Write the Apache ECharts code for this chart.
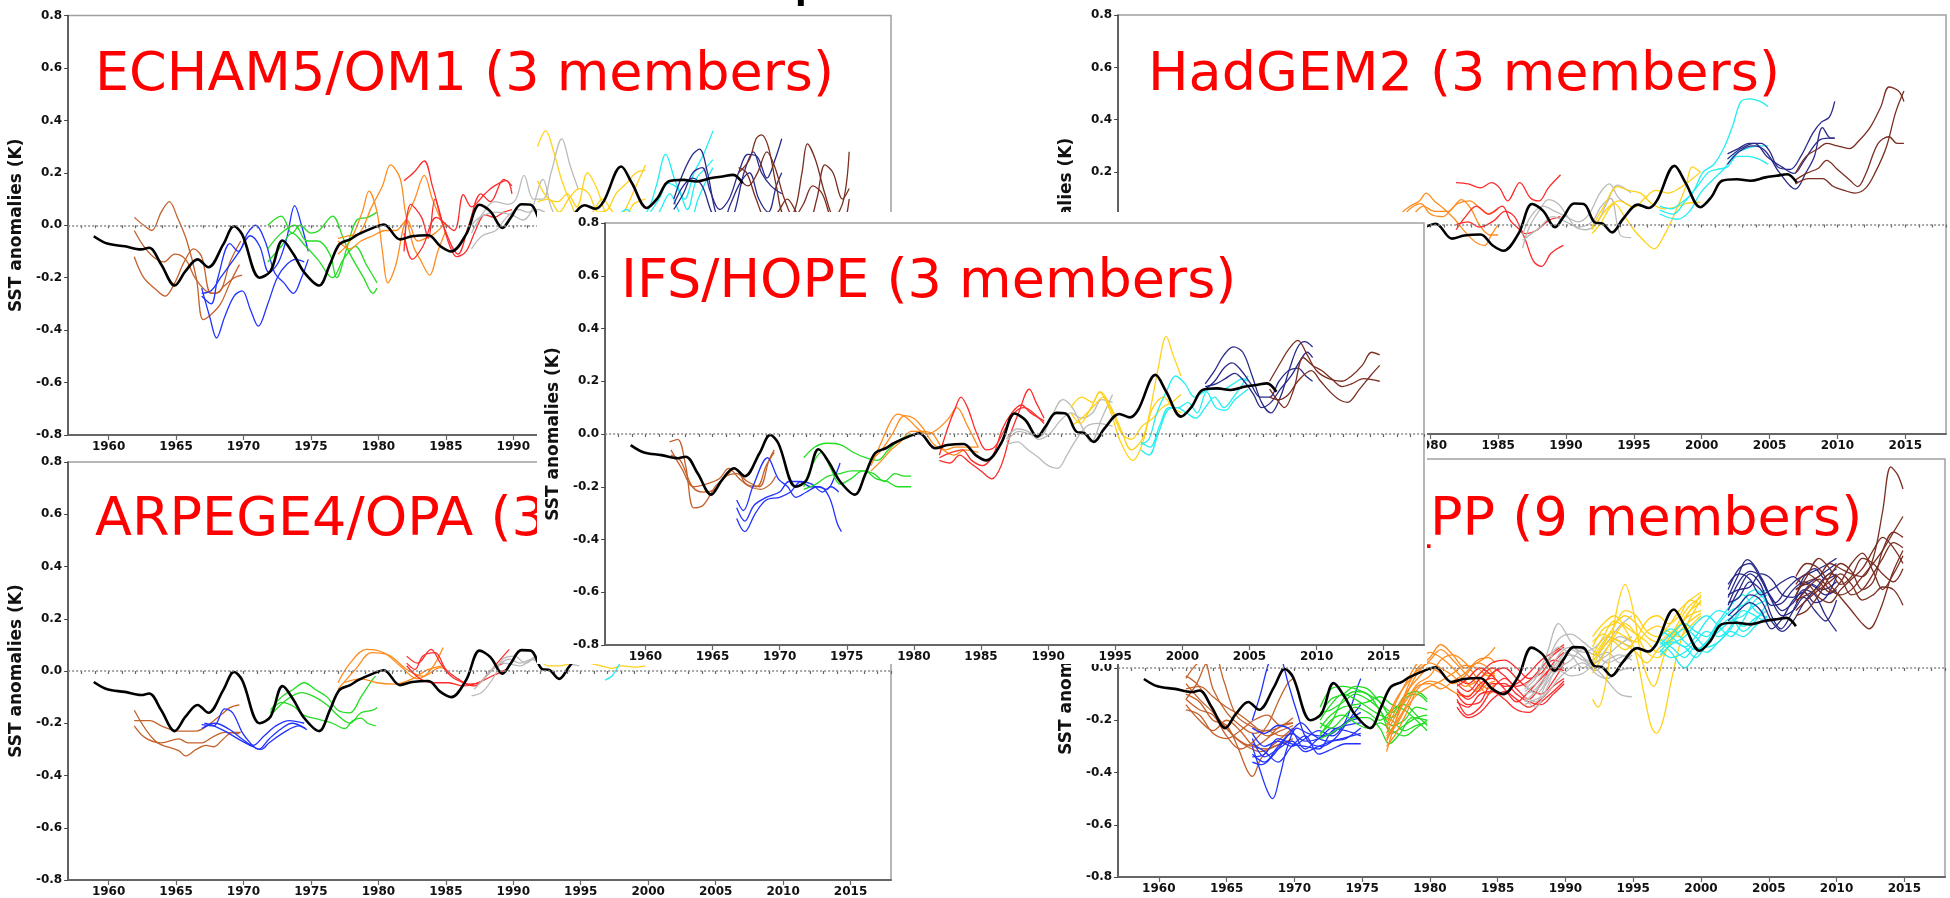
<!DOCTYPE html>
<html>
<head>
<meta charset="utf-8">
<script src="https://cdn.jsdelivr.net/npm/echarts@6/dist/echarts.min.js"></script>
<style>
  html, body { margin: 0; padding: 0; background: #ffffff; width: 1950px; height: 898px; overflow: hidden; }
  .panel { position: absolute; }
  #pIFS { background: #ffffff; z-index: 10; }
</style>
</head>
<body>
<div id="pTL" class="panel" style="left:0px;top:0px;width:900px;height:460px;z-index:1"></div>
<div id="pTR" class="panel" style="left:1050px;top:0px;width:900px;height:460px;z-index:1"></div>
<div id="pBL" class="panel" style="left:0px;top:450px;width:900px;height:448px;z-index:2"></div>
<div id="pBR" class="panel" style="left:1050px;top:450px;width:900px;height:448px;z-index:2"></div>
<div id="pIFS" class="panel" style="left:537px;top:212px;width:890px;height:452px;"></div>
<script>
// ---------------------------------------------------------------------------
// Data: global-mean SST anomalies (K). Observations plus decadal hindcasts
// started every five years; each start date holds one curve per member.
// Points are [year, anomaly].
// ---------------------------------------------------------------------------
const startYears = [1960, 1965, 1970, 1975, 1980, 1985, 1990, 1995, 2000, 2005];
const xTickYears = [1960, 1965, 1970, 1975, 1980, 1985, 1990, 1995, 2000, 2005, 2010, 2015];

const observed = [[1958.9,-0.042],[1959.9,-0.07],[1961.2,-0.08],[1962.4,-0.092],[1963.0,-0.086],[1963.9,-0.15],[1964.9,-0.23],[1965.7,-0.175],[1966.6,-0.13],[1967.4,-0.16],[1968.5,-0.073],[1969.3,-0.004],[1969.9,-0.035],[1971.2,-0.2],[1972.0,-0.175],[1972.9,-0.058],[1973.7,-0.11],[1974.5,-0.18],[1975.6,-0.23],[1976.4,-0.15],[1977.1,-0.073],[1977.9,-0.054],[1978.5,-0.035],[1979.6,-0.01],[1980.4,0.003],[1981.6,-0.054],[1982.5,-0.042],[1983.7,-0.038],[1984.6,-0.08],[1985.4,-0.1],[1986.5,-0.035],[1987.5,0.078],[1988.3,0.053],[1989.2,-0.01],[1989.8,0.028],[1990.6,0.08],[1991.3,0.078],[1992.1,0.009],[1992.7,0.003],[1993.4,-0.03],[1994.2,0.021],[1995.3,0.076],[1996.1,0.063],[1996.7,0.091],[1998.0,0.224],[1998.8,0.16],[1999.9,0.066],[2000.7,0.104],[2001.5,0.167],[2002.6,0.173],[2003.6,0.167],[2004.7,0.18],[2005.5,0.186],[2006.3,0.192],[2007.0,0.16]];

const echam5 = [
  [ [[1961.9,0.03],[1962.6,0.0],[1963.2,-0.02],[1963.9,0.05],[1964.5,0.09],[1965.1,0.03],[1965.8,-0.06],[1966.5,-0.2],[1967.0,-0.36],[1967.6,-0.34],[1968.3,-0.3],[1969.0,-0.22],[1969.7,-0.15]],
    [[1961.9,-0.12],[1962.6,-0.2],[1963.4,-0.24],[1964.2,-0.27],[1964.9,-0.22],[1965.6,-0.14],[1966.3,-0.09],[1966.9,-0.12],[1967.6,-0.26],[1968.3,-0.25],[1969.0,-0.14],[1969.8,-0.06]],
    [[1961.9,-0.02],[1962.6,-0.08],[1963.3,-0.12],[1964.1,-0.14],[1964.9,-0.11],[1965.7,-0.13],[1966.4,-0.2],[1967.2,-0.25],[1967.9,-0.26],[1968.6,-0.23],[1969.3,-0.2],[1969.9,-0.19]] ],
  [ [[1966.9,-0.24],[1967.5,-0.35],[1968.0,-0.43],[1968.6,-0.35],[1969.3,-0.27],[1969.9,-0.25],[1970.5,-0.32],[1971.1,-0.385],[1971.8,-0.3],[1972.5,-0.2],[1973.2,-0.15],[1973.9,-0.13],[1974.5,-0.14]],
    [[1966.9,-0.27],[1967.6,-0.3],[1968.1,-0.2],[1969.0,-0.07],[1969.6,-0.1],[1970.3,-0.03],[1970.9,0.0],[1971.6,-0.06],[1972.3,-0.18],[1973.0,-0.22],[1973.7,-0.26],[1974.3,-0.2],[1974.8,-0.13]],
    [[1966.9,-0.26],[1967.6,-0.25],[1968.3,-0.2],[1969.0,-0.15],[1969.7,-0.1],[1970.5,-0.04],[1971.2,-0.08],[1971.9,-0.18],[1972.6,-0.14],[1973.2,-0.05],[1973.8,0.075],[1974.3,0.0],[1974.8,-0.1]] ],
  [ [[1971.8,0.0],[1972.8,0.035],[1973.6,-0.03],[1974.2,0.0],[1975.0,-0.03],[1975.6,-0.02],[1976.6,0.035],[1977.4,-0.05],[1977.9,-0.11],[1978.9,-0.2],[1979.6,-0.26],[1979.9,-0.24]],
    [[1971.8,-0.09],[1972.8,-0.03],[1973.8,0.0],[1974.7,-0.06],[1975.5,-0.06],[1976.4,-0.11],[1976.9,-0.2],[1977.7,-0.08],[1978.4,0.02],[1979.2,0.03],[1979.9,0.05]],
    [[1971.8,-0.14],[1972.8,-0.08],[1973.6,-0.03],[1974.6,-0.08],[1975.5,-0.13],[1976.6,-0.2],[1977.4,-0.13],[1978.3,-0.08],[1979.1,-0.15],[1979.9,-0.22]] ],
  [ [[1977.0,-0.11],[1977.9,-0.06],[1978.8,0.05],[1979.3,0.13],[1979.9,0.05],[1980.3,-0.1],[1980.7,-0.22],[1981.3,-0.15],[1981.9,0.0],[1982.7,0.1],[1983.4,0.19],[1984.0,0.1],[1984.8,0.0]],
    [[1977.0,-0.05],[1977.8,-0.04],[1978.6,-0.03],[1979.5,0.07],[1980.3,0.15],[1980.9,0.23],[1981.6,0.18],[1982.0,0.05],[1982.6,-0.08],[1983.1,-0.13],[1983.8,-0.19],[1984.4,-0.1],[1985.0,-0.02]],
    [[1977.0,-0.06],[1977.9,-0.09],[1978.7,-0.06],[1979.6,-0.04],[1980.5,-0.02],[1981.3,-0.02],[1982.1,0.02],[1982.9,-0.06],[1983.5,-0.05],[1984.2,-0.03],[1985.0,0.01]] ],
  [ [[1981.9,0.17],[1982.6,0.2],[1983.4,0.245],[1984.0,0.15],[1984.7,0.02],[1985.3,-0.08],[1985.8,-0.12],[1986.5,-0.1],[1987.2,-0.02],[1987.9,0.04],[1988.6,0.03],[1989.3,0.05],[1989.9,0.06]],
    [[1981.9,-0.1],[1982.4,0.08],[1983.2,0.03],[1983.7,-0.05],[1984.2,0.1],[1984.8,0.0],[1985.9,-0.11],[1986.7,0.0],[1987.6,0.12],[1988.3,0.09],[1989.3,0.175],[1989.9,0.15]],
    [[1981.9,-0.03],[1982.5,-0.13],[1983.3,-0.08],[1984.3,0.03],[1985.6,-0.02],[1986.3,0.117],[1986.9,0.07],[1987.9,0.12],[1988.6,0.15],[1989.5,0.17],[1989.9,0.12]] ],
  [ [[1986.9,-0.09],[1987.7,-0.04],[1988.7,-0.02],[1989.5,0.03],[1990.4,0.06],[1991.1,0.05],[1991.8,0.06],[1992.6,0.04],[1993.4,0.0],[1994.2,-0.02],[1994.9,0.0]],
    [[1986.9,-0.03],[1987.8,0.05],[1988.6,0.09],[1989.6,0.08],[1990.2,0.1],[1990.8,0.19],[1991.5,0.1],[1992.2,0.1],[1992.8,0.2],[1993.6,0.33],[1994.2,0.23],[1994.8,0.14]],
    [[1986.9,0.0],[1987.5,0.03],[1988.7,0.05],[1989.9,0.04],[1990.7,0.02],[1991.3,0.05],[1992.2,0.175],[1992.8,0.07],[1993.5,0.0],[1994.2,-0.02],[1994.9,0.0]] ],
  [ [[1991.8,0.3],[1992.4,0.36],[1993.0,0.28],[1993.6,0.17],[1994.3,0.08],[1995.1,0.0],[1995.9,0.05],[1996.6,0.1],[1997.4,0.05],[1998.2,0.02],[1998.9,0.08],[1999.8,0.1]],
    [[1991.8,0.17],[1992.6,0.1],[1993.3,0.09],[1994.0,0.12],[1994.7,0.07],[1995.5,0.2],[1996.2,0.14],[1996.9,0.04],[1997.6,0.0],[1998.4,0.07],[1999.1,0.15],[1999.8,0.23]],
    [[1991.8,0.09],[1992.6,0.1],[1993.4,0.05],[1994.1,0.1],[1994.9,0.14],[1995.6,0.12],[1996.3,0.05],[1997.0,0.06],[1997.6,0.12],[1998.4,0.16],[1999.1,0.2],[1999.8,0.21]] ],
  [ [[1996.8,0.0],[1997.6,0.03],[1998.4,0.06],[1999.2,0.02],[2000.0,0.06],[2000.6,0.15],[2001.3,0.27],[2002.0,0.17],[2002.7,0.1],[2003.4,0.2],[2004.1,0.27],[2004.8,0.36]],
    [[1996.8,-0.02],[1997.6,0.0],[1998.4,0.02],[1999.2,0.0],[2000.0,0.04],[2000.8,0.1],[2001.5,0.16],[2002.2,0.14],[2002.9,0.06],[2003.6,0.18],[2004.3,0.22],[2004.8,0.25]],
    [[1996.8,0.02],[1997.6,0.0],[1998.4,-0.02],[1999.2,0.03],[2000.0,0.0],[2000.8,0.05],[2001.6,0.12],[2002.3,0.05],[2003.0,0.0],[2003.7,0.1],[2004.3,0.17],[2004.8,0.22]] ],
  [ [[2001.9,0.1],[2002.6,0.2],[2003.3,0.27],[2003.8,0.29],[2004.4,0.2],[2005.0,0.05],[2005.7,-0.02],[2006.4,0.05],[2007.1,0.2],[2007.8,0.28],[2008.4,0.2],[2009.1,0.15],[2009.9,0.12]],
    [[2001.9,0.06],[2002.6,0.12],[2003.3,0.2],[2004.0,0.22],[2004.6,0.13],[2005.3,0.06],[2006.0,0.1],[2006.7,0.2],[2007.4,0.27],[2008.1,0.26],[2008.8,0.18],[2009.4,0.25],[2009.9,0.33]],
    [[2001.9,0.08],[2002.6,0.15],[2003.3,0.18],[2004.0,0.15],[2004.7,0.05],[2005.4,0.0],[2006.1,0.08],[2006.8,0.16],[2007.5,0.2],[2008.2,0.1],[2008.9,0.05],[2009.5,0.15],[2009.9,0.2]] ],
  [ [[2006.7,0.2],[2007.5,0.25],[2008.0,0.33],[2008.4,0.345],[2008.9,0.3],[2009.5,0.15],[2010.1,0.04],[2010.8,0.05],[2011.4,0.2],[2011.8,0.31],[2012.4,0.25],[2013.1,0.12],[2013.8,0.03],[2014.5,0.1],[2014.9,0.28]],
    [[2006.7,0.22],[2007.3,0.2],[2008.0,0.1],[2008.8,0.02],[2009.6,0.05],[2010.3,0.1],[2011.1,0.04],[2011.8,0.0],[2012.5,0.1],[2013.1,0.23],[2013.7,0.2],[2014.4,0.1],[2014.9,0.14]],
    [[2006.7,0.18],[2007.4,0.15],[2008.1,0.2],[2008.8,0.28],[2009.4,0.22],[2010.1,0.1],[2010.8,0.03],[2011.5,0.08],[2012.2,0.15],[2012.9,0.12],[2013.6,0.02],[2014.3,-0.02],[2014.9,0.1]] ]
];

const hadgem2 = [
  [], [], [],
  [ [[1977.0,-0.02],[1977.8,0.04],[1978.5,0.07],[1979.2,0.09],[1979.7,0.12],[1980.3,0.09],[1981.0,0.06],[1981.8,0.02],[1982.6,-0.03],[1983.4,-0.07],[1984.0,-0.08],[1984.5,-0.04],[1985.0,0.0]],
    [[1977.0,0.0],[1977.8,0.02],[1978.5,0.06],[1979.3,0.08],[1980.0,0.04],[1980.9,0.03],[1981.6,0.06],[1982.3,0.095],[1983.0,0.06],[1983.6,0.0],[1984.4,-0.04],[1985.0,-0.04]],
    [[1977.0,-0.03],[1977.8,0.0],[1978.6,0.03],[1979.5,0.07],[1980.3,0.05],[1981.3,0.05],[1982.0,0.08],[1982.9,0.09],[1983.7,0.06],[1984.3,0.04],[1985.0,0.06]] ],
  [ [[1981.9,0.16],[1982.8,0.155],[1983.7,0.14],[1984.5,0.16],[1985.1,0.14],[1985.7,0.09],[1986.6,0.16],[1987.4,0.1],[1988.0,0.09],[1988.7,0.14],[1989.6,0.19]],
    [[1981.9,-0.02],[1982.6,0.03],[1983.4,0.07],[1984.3,0.04],[1985.3,0.07],[1985.9,0.015],[1986.8,-0.035],[1987.6,-0.14],[1988.2,-0.16],[1988.9,-0.11],[1989.8,-0.08]],
    [[1981.9,0.0],[1982.8,0.01],[1983.6,-0.01],[1984.7,0.015],[1985.5,0.05],[1986.2,0.03],[1987.0,-0.035],[1987.9,-0.02],[1988.7,0.015],[1989.6,0.03]] ],
  [ [[1986.8,-0.09],[1987.3,-0.01],[1988.0,0.05],[1988.7,0.095],[1989.4,0.08],[1990.0,0.04],[1990.7,-0.01],[1991.4,-0.02],[1992.2,0.0],[1993.0,0.08],[1993.8,0.15],[1994.8,0.12]],
    [[1986.8,-0.04],[1987.4,0.03],[1988.3,0.07],[1989.2,0.05],[1990.0,0.03],[1990.9,0.01],[1991.7,0.04],[1992.5,0.12],[1993.2,0.155],[1993.9,0.1],[1994.8,0.07]],
    [[1986.8,-0.06],[1988.1,-0.01],[1989.0,0.03],[1990.0,0.01],[1990.9,-0.01],[1991.9,0.01],[1992.6,0.07],[1993.3,0.1],[1994.0,-0.04],[1994.8,-0.05]] ],
  [ [[1991.9,-0.01],[1992.8,0.07],[1993.8,0.145],[1994.6,0.13],[1995.5,0.12],[1996.3,0.08],[1997.2,0.06],[1998.0,0.065],[1998.8,0.08],[1999.9,0.085]],
    [[1991.9,-0.035],[1992.5,0.0],[1993.6,0.08],[1994.2,0.04],[1995.0,-0.02],[1995.7,-0.06],[1996.5,-0.093],[1997.3,-0.035],[1998.0,0.04],[1998.8,0.14],[1999.3,0.22],[1999.9,0.2]],
    [[1991.9,-0.02],[1993.1,0.065],[1993.9,0.09],[1995.0,0.065],[1995.8,0.1],[1996.6,0.13],[1997.5,0.12],[1998.4,0.14],[1999.2,0.17],[1999.9,0.2]] ],
  [ [[1996.9,0.07],[1997.8,0.06],[1998.4,0.08],[1999.3,0.12],[2000.1,0.2],[2000.9,0.23],[2001.7,0.3],[2002.3,0.38],[2002.9,0.47],[2003.6,0.48],[2004.3,0.47],[2004.9,0.45]],
    [[1996.9,0.055],[1997.9,0.04],[1998.8,0.09],[1999.6,0.14],[2000.5,0.2],[2001.1,0.21],[2001.9,0.22],[2002.6,0.26],[2003.4,0.26],[2004.2,0.25],[2004.9,0.23]],
    [[1996.9,0.04],[1998.2,0.02],[1999.1,0.05],[1999.9,0.12],[2000.8,0.17],[2001.6,0.21],[2002.5,0.27],[2003.3,0.29],[2004.2,0.3],[2004.9,0.3]] ],
  [ [[2001.9,0.27],[2002.7,0.29],[2003.5,0.31],[2004.4,0.31],[2005.0,0.28],[2005.6,0.22],[2006.5,0.21],[2007.3,0.26],[2008.2,0.35],[2008.8,0.39],[2009.4,0.41],[2009.8,0.47]],
    [[2001.9,0.23],[2002.8,0.28],[2003.8,0.3],[2004.7,0.28],[2005.7,0.2],[2006.9,0.135],[2007.7,0.2],[2008.3,0.26],[2008.9,0.37],[2009.5,0.33],[2009.8,0.33]],
    [[2001.9,0.25],[2002.9,0.29],[2003.9,0.31],[2004.8,0.26],[2005.9,0.22],[2006.8,0.195],[2007.5,0.24],[2008.6,0.32],[2009.4,0.33],[2009.8,0.33]] ],
  [ [[2006.9,0.195],[2007.7,0.26],[2008.6,0.29],[2009.2,0.31],[2010.0,0.3],[2010.9,0.29],[2011.5,0.315],[2012.4,0.37],[2013.2,0.45],[2013.8,0.525],[2014.5,0.51],[2014.9,0.47]],
    [[2006.9,0.17],[2007.7,0.195],[2008.6,0.215],[2009.2,0.245],[2010.0,0.21],[2010.9,0.17],[2011.5,0.145],[2012.1,0.195],[2013.0,0.31],[2013.8,0.335],[2014.4,0.31],[2014.9,0.31]],
    [[2006.9,0.155],[2007.9,0.175],[2008.9,0.175],[2009.7,0.145],[2010.5,0.13],[2011.3,0.12],[2012.1,0.14],[2012.8,0.2],[2013.6,0.295],[2014.3,0.43],[2014.9,0.51]] ]
];

const ifsHope = [
  [ [[1961.8,-0.03],[1962.4,-0.02],[1963.0,-0.12],[1963.6,-0.28],[1964.3,-0.27],[1965.2,-0.2],[1966.0,-0.16],[1966.7,-0.13],[1967.5,-0.19],[1968.3,-0.2],[1969.0,-0.12],[1969.6,-0.07]],
    [[1961.9,-0.08],[1962.6,-0.1],[1963.5,-0.2],[1964.3,-0.22],[1965.2,-0.21],[1966.0,-0.16],[1966.8,-0.15],[1967.6,-0.18],[1968.5,-0.2],[1969.2,-0.1],[1969.6,-0.06]],
    [[1961.9,-0.06],[1962.7,-0.13],[1963.6,-0.2],[1964.5,-0.19],[1965.5,-0.17],[1966.2,-0.13],[1967.0,-0.17],[1967.8,-0.2],[1968.6,-0.21],[1969.3,-0.19],[1969.7,-0.16]] ],
  [ [[1966.8,-0.25],[1967.3,-0.29],[1968.0,-0.2],[1969.1,-0.09],[1969.9,-0.17],[1970.6,-0.2],[1971.2,-0.24],[1972.0,-0.22],[1972.8,-0.2],[1973.5,-0.21],[1974.2,-0.15],[1974.5,-0.11]],
    [[1966.8,-0.28],[1967.4,-0.33],[1968.1,-0.27],[1969.0,-0.24],[1970.0,-0.22],[1970.7,-0.18],[1971.5,-0.18],[1972.3,-0.2],[1973.0,-0.2],[1973.7,-0.24],[1974.3,-0.34],[1974.6,-0.37]],
    [[1966.8,-0.32],[1967.4,-0.37],[1968.2,-0.3],[1969.0,-0.25],[1970.0,-0.24],[1970.8,-0.22],[1971.6,-0.18],[1972.4,-0.19],[1973.2,-0.22],[1973.8,-0.2],[1974.4,-0.22]] ],
  [ [[1971.8,-0.09],[1972.6,-0.05],[1973.5,-0.035],[1974.5,-0.04],[1975.5,-0.07],[1976.4,-0.09],[1977.3,-0.1],[1978.1,-0.06],[1979.0,-0.02],[1979.8,0.0]],
    [[1971.8,-0.2],[1972.4,-0.12],[1973.1,-0.07],[1973.8,-0.13],[1974.5,-0.19],[1975.3,-0.17],[1976.2,-0.14],[1977.0,-0.15],[1977.8,-0.18],[1978.6,-0.15],[1979.3,-0.16],[1979.8,-0.16]],
    [[1971.8,-0.21],[1972.7,-0.19],[1973.6,-0.16],[1974.5,-0.15],[1975.4,-0.14],[1976.3,-0.14],[1977.2,-0.17],[1978.0,-0.18],[1978.8,-0.2],[1979.8,-0.2]] ],
  [ [[1976.8,-0.12],[1977.5,-0.04],[1978.3,0.05],[1978.8,0.075],[1979.5,0.06],[1980.3,0.02],[1981.0,0.0],[1981.8,0.02],[1982.6,0.06],[1983.2,0.1],[1984.0,0.03],[1984.8,-0.05]],
    [[1976.8,-0.1],[1977.6,-0.06],[1978.4,0.0],[1979.3,0.07],[1980.0,0.06],[1980.7,0.02],[1981.5,-0.04],[1982.3,-0.06],[1983.1,-0.05],[1984.0,-0.05],[1984.8,-0.05]],
    [[1976.8,-0.14],[1977.6,-0.1],[1978.3,-0.06],[1979.0,-0.03],[1979.8,0.01],[1980.6,0.01],[1981.4,0.0],[1982.2,-0.06],[1983.0,-0.08],[1983.8,-0.06],[1984.8,-0.07]] ],
  [ [[1981.9,-0.08],[1982.5,0.02],[1983.1,0.1],[1983.5,0.14],[1984.0,0.1],[1984.7,0.0],[1985.4,-0.06],[1986.0,-0.05],[1986.8,0.02],[1987.5,0.08],[1988.2,0.1],[1988.9,0.08],[1989.7,0.04]],
    [[1981.9,-0.1],[1982.7,-0.11],[1983.4,-0.08],[1984.2,-0.11],[1985.0,-0.14],[1985.8,-0.17],[1986.5,-0.12],[1987.2,0.0],[1987.8,0.08],[1988.6,0.17],[1989.1,0.12],[1989.7,0.06]],
    [[1981.9,-0.09],[1982.8,-0.07],[1983.6,-0.06],[1984.3,-0.1],[1985.1,-0.12],[1985.9,-0.08],[1986.6,0.02],[1987.3,0.08],[1988.0,0.11],[1988.7,0.08],[1989.7,0.05]] ],
  [ [[1986.9,-0.04],[1987.7,-0.03],[1988.5,-0.06],[1989.3,-0.09],[1990.0,-0.12],[1990.7,-0.13],[1991.4,-0.08],[1992.1,-0.02],[1992.9,0.03],[1993.7,0.04],[1994.8,0.03]],
    [[1986.9,-0.03],[1987.8,0.01],[1988.6,0.0],[1989.4,-0.01],[1990.2,0.06],[1991.1,0.13],[1991.8,0.1],[1992.5,0.03],[1993.2,-0.03],[1994.0,0.06],[1994.8,0.15]],
    [[1986.9,-0.02],[1987.7,0.02],[1988.5,0.01],[1989.3,-0.02],[1990.1,0.0],[1990.9,0.05],[1991.7,0.08],[1992.5,0.06],[1993.3,0.08],[1994.0,0.13],[1994.8,0.12]] ],
  [ [[1991.7,0.1],[1992.5,0.14],[1993.3,0.12],[1993.8,0.16],[1994.6,0.09],[1995.4,-0.03],[1996.3,-0.1],[1997.0,-0.04],[1997.6,0.09],[1998.2,0.25],[1998.8,0.37],[1999.3,0.3],[1999.9,0.22]],
    [[1991.7,0.08],[1992.4,0.04],[1993.2,0.1],[1993.9,0.16],[1994.7,0.1],[1995.4,0.02],[1996.2,-0.06],[1997.0,-0.02],[1997.8,0.1],[1998.6,0.14],[1999.3,0.1],[1999.9,0.08]],
    [[1991.7,0.03],[1992.5,0.06],[1993.3,0.1],[1994.1,0.14],[1994.8,0.08],[1995.5,0.0],[1996.2,-0.02],[1997.0,0.03],[1997.8,0.06],[1998.5,0.1],[1999.2,0.12],[1999.9,0.15]] ],
  [ [[1996.9,-0.04],[1997.5,-0.02],[1998.1,0.08],[1998.8,0.16],[1999.5,0.22],[2000.2,0.19],[2000.9,0.14],[2001.6,0.16],[2002.3,0.17],[2003.0,0.17],[2003.8,0.19],[2004.5,0.21],[2004.9,0.2]],
    [[1996.9,-0.06],[1997.5,-0.08],[1998.2,0.0],[1998.9,0.09],[1999.6,0.1],[2000.3,0.08],[2001.0,0.06],[2001.7,0.1],[2002.4,0.14],[2003.1,0.1],[2003.8,0.14],[2004.5,0.19],[2004.9,0.22]],
    [[1996.9,-0.03],[1997.6,-0.05],[1998.3,0.03],[1999.0,0.1],[1999.7,0.1],[2000.4,0.12],[2001.1,0.08],[2001.8,0.16],[2002.5,0.1],[2003.2,0.09],[2003.9,0.13],[2004.9,0.17]] ],
  [ [[2001.7,0.19],[2002.4,0.24],[2003.1,0.3],[2003.8,0.33],[2004.5,0.31],[2005.2,0.22],[2005.9,0.12],[2006.6,0.08],[2007.3,0.14],[2008.0,0.25],[2008.6,0.33],[2009.1,0.35],[2009.7,0.33]],
    [[2001.7,0.17],[2002.4,0.2],[2003.1,0.25],[2003.7,0.27],[2004.4,0.24],[2005.1,0.19],[2005.8,0.14],[2006.5,0.14],[2007.2,0.2],[2007.9,0.24],[2008.6,0.25],[2009.2,0.22],[2009.7,0.2]],
    [[2001.7,0.18],[2002.5,0.19],[2003.2,0.21],[2003.9,0.23],[2004.6,0.2],[2005.3,0.15],[2005.9,0.1],[2006.6,0.12],[2007.3,0.17],[2008.1,0.22],[2008.8,0.28],[2009.3,0.31],[2009.7,0.29]] ],
  [ [[2006.5,0.2],[2007.3,0.27],[2007.9,0.32],[2008.6,0.355],[2009.3,0.3],[2010.0,0.24],[2010.9,0.21],[2011.9,0.2],[2012.6,0.22],[2013.4,0.26],[2014.1,0.31],[2014.7,0.3]],
    [[2006.5,0.17],[2007.2,0.12],[2007.6,0.1],[2008.3,0.17],[2009.0,0.29],[2009.7,0.26],[2010.4,0.24],[2011.1,0.21],[2011.9,0.18],[2012.6,0.19],[2013.5,0.21],[2014.7,0.2]],
    [[2006.5,0.14],[2007.2,0.13],[2007.9,0.15],[2008.6,0.2],[2009.6,0.24],[2010.3,0.2],[2011.0,0.16],[2011.7,0.13],[2012.3,0.12],[2013.2,0.17],[2014.0,0.22],[2014.7,0.26]] ]
];

const arpege4 = [
  [ [[1961.9,-0.15],[1963.5,-0.27],[1965.2,-0.305],[1965.7,-0.325],[1966.5,-0.3],[1967.2,-0.285],[1967.8,-0.29],[1968.5,-0.26],[1969.2,-0.235],[1969.8,-0.235]],
    [[1961.9,-0.19],[1963.1,-0.19],[1963.9,-0.21],[1965.2,-0.23],[1966.5,-0.23],[1967.3,-0.21],[1968.4,-0.165],[1969.0,-0.14],[1969.7,-0.13]],
    [[1961.9,-0.21],[1962.7,-0.255],[1963.9,-0.275],[1965.2,-0.26],[1965.9,-0.275],[1966.9,-0.275],[1967.8,-0.25],[1968.6,-0.235],[1969.7,-0.24]] ],
  [ [[1966.9,-0.205],[1967.8,-0.21],[1968.6,-0.145],[1969.2,-0.16],[1969.9,-0.235],[1970.5,-0.275],[1971.1,-0.3],[1971.9,-0.26],[1972.7,-0.225],[1973.6,-0.2],[1974.6,-0.22]],
    [[1966.9,-0.22],[1967.9,-0.2],[1969.0,-0.225],[1969.9,-0.26],[1970.7,-0.285],[1971.5,-0.25],[1972.4,-0.21],[1973.4,-0.19],[1974.5,-0.2]],
    [[1967.1,-0.2],[1967.8,-0.21],[1968.8,-0.235],[1969.6,-0.26],[1970.7,-0.29],[1971.3,-0.3],[1971.9,-0.275],[1973.0,-0.235],[1974.1,-0.21],[1974.7,-0.225]] ],
  [ [[1972.0,-0.15],[1972.8,-0.1],[1973.7,-0.07],[1974.5,-0.045],[1975.3,-0.07],[1976.2,-0.1],[1977.0,-0.15],[1977.9,-0.16],[1978.7,-0.1],[1979.6,-0.03],[1979.8,-0.02]],
    [[1972.0,-0.17],[1973.2,-0.11],[1974.3,-0.083],[1975.3,-0.1],[1976.2,-0.13],[1977.0,-0.17],[1977.9,-0.2],[1978.7,-0.16],[1979.6,-0.15],[1979.9,-0.14]],
    [[1972.0,-0.16],[1972.8,-0.12],[1973.7,-0.135],[1974.5,-0.17],[1975.6,-0.185],[1976.6,-0.2],[1977.5,-0.22],[1978.1,-0.19],[1978.7,-0.18],[1979.2,-0.2],[1979.8,-0.21]] ],
  [ [[1977.0,-0.045],[1977.9,0.03],[1979.1,0.083],[1980.4,0.07],[1981.6,0.02],[1982.9,-0.03],[1983.9,0.006],[1984.8,0.09]],
    [[1977.0,-0.07],[1978.3,0.006],[1979.5,0.07],[1980.8,0.06],[1982.1,0.006],[1983.3,-0.02],[1984.6,0.013],[1985.0,0.006]],
    [[1977.4,-0.045],[1978.7,-0.03],[1979.9,-0.045],[1981.2,-0.05],[1982.5,-0.03],[1983.7,0.006],[1984.8,0.02]] ],
  [ [[1982.1,0.057],[1982.9,0.03],[1983.9,0.083],[1984.6,0.03],[1985.4,-0.02],[1986.3,-0.045],[1987.1,-0.057],[1988.0,-0.02],[1988.8,0.03],[1989.7,0.083]],
    [[1982.1,0.03],[1982.7,0.006],[1983.3,0.057],[1984.2,0.07],[1985.0,0.006],[1985.9,-0.03],[1986.7,-0.05],[1987.6,-0.04],[1988.4,0.006],[1989.3,0.03]],
    [[1982.1,0.02],[1983.1,-0.03],[1984.2,-0.045],[1985.2,-0.045],[1986.3,-0.057],[1987.4,-0.045],[1988.4,-0.02],[1989.5,0.006]] ],
  [ [[1986.9,-0.095],[1987.7,-0.08],[1988.6,-0.02],[1989.2,0.045],[1990.1,0.057],[1990.9,0.03],[1991.9,0.057],[1992.8,0.04],[1993.8,0.03],[1994.9,0.02]],
    [[1987.1,-0.07],[1988.0,-0.02],[1988.8,0.02],[1989.7,0.045],[1990.5,0.03],[1991.4,0.045],[1992.0,0.03],[1993.0,0.04],[1994.0,0.05],[1994.9,0.04]],
    [[1987.6,-0.045],[1988.4,0.006],[1989.2,0.03],[1990.5,0.02],[1991.8,0.057],[1992.8,0.05],[1993.8,0.06],[1994.9,0.05]] ],
  [ [[1991.8,0.05],[1992.6,0.02],[1993.5,0.02],[1994.5,0.03],[1995.5,0.03],[1996.5,0.02],[1997.3,0.01],[1998.0,0.02],[1999.0,0.015],[1999.8,0.02]],
    [[1991.8,0.08],[1993.0,0.06],[1994.5,0.08],[1996.0,0.05],[1997.5,0.04],[1998.5,0.05],[1999.8,0.06]],
    [[1991.8,0.07],[1993.0,0.1],[1994.5,0.06],[1996.0,0.08],[1997.5,0.06],[1999.0,0.08],[1999.8,0.07]] ],
  [ [[1996.8,-0.035],[1997.3,-0.02],[1997.8,0.02],[1998.3,0.06]] ],
  [], []
];

const depresysPP = [
  [ [[1962.0,-0.04],[1962.7,0.01],[1963.3,0.03],[1964.0,-0.08],[1965.0,-0.17],[1966.0,-0.22],[1967.0,-0.25],[1968.0,-0.24],[1969.0,-0.26],[1969.9,-0.25]],
    [[1962.0,-0.06],[1963.0,-0.12],[1964.0,-0.17],[1965.0,-0.23],[1966.0,-0.28],[1967.0,-0.3],[1968.0,-0.27],[1969.0,-0.22],[1969.9,-0.21]],
    [[1962.0,-0.1],[1963.0,-0.13],[1964.0,-0.2],[1965.0,-0.22],[1965.8,-0.3],[1966.5,-0.39],[1966.9,-0.415],[1967.5,-0.35],[1968.3,-0.3],[1969.0,-0.27],[1969.9,-0.23]],
    [[1962.0,-0.12],[1963.0,-0.16],[1964.0,-0.18],[1965.0,-0.26],[1966.0,-0.31],[1967.0,-0.28],[1968.0,-0.22],[1968.8,-0.13],[1969.5,-0.06],[1969.9,-0.04]],
    [[1962.0,-0.14],[1963.0,-0.2],[1964.0,-0.24],[1965.0,-0.2],[1966.0,-0.24],[1967.0,-0.3],[1968.0,-0.31],[1969.0,-0.29],[1969.9,-0.28]],
    [[1962.0,-0.16],[1963.0,-0.18],[1964.0,-0.25],[1965.0,-0.27],[1966.0,-0.24],[1967.0,-0.2],[1968.0,-0.18],[1969.0,-0.22],[1969.9,-0.21]],
    [[1962.0,-0.08],[1963.0,-0.07],[1964.0,-0.11],[1965.0,-0.15],[1966.0,-0.18],[1967.0,-0.22],[1968.0,-0.26],[1969.0,-0.24],[1969.9,-0.22]],
    [[1962.0,-0.03],[1962.8,-0.06],[1963.6,-0.12],[1964.5,-0.2],[1965.5,-0.26],[1966.5,-0.3],[1967.5,-0.32],[1968.5,-0.3],[1969.9,-0.27]],
    [[1962.0,-0.12],[1962.8,-0.06],[1963.5,0.02],[1964.1,0.05],[1964.8,-0.05],[1965.7,-0.18],[1966.7,-0.22],[1967.8,-0.24],[1968.8,-0.23],[1969.9,-0.19]] ],
  [ [[1966.9,-0.3],[1967.4,-0.38],[1968.0,-0.47],[1968.4,-0.5],[1968.9,-0.42],[1969.5,-0.3],[1970.2,-0.23],[1971.0,-0.25],[1972.0,-0.26],[1973.0,-0.24],[1974.0,-0.2],[1974.9,-0.17]],
    [[1966.9,-0.2],[1967.5,-0.1],[1968.0,0.0],[1968.5,0.06],[1969.0,0.04],[1969.5,-0.05],[1970.2,-0.17],[1971.0,-0.28],[1972.0,-0.3],[1973.0,-0.27],[1974.0,-0.2],[1974.9,-0.14]],
    [[1966.9,-0.25],[1967.8,-0.3],[1968.8,-0.28],[1969.8,-0.3],[1970.8,-0.27],[1971.8,-0.24],[1972.8,-0.26],[1973.8,-0.2],[1974.6,-0.08],[1974.9,-0.04]],
    [[1966.9,-0.27],[1967.8,-0.34],[1968.8,-0.31],[1969.8,-0.28],[1970.8,-0.32],[1971.8,-0.3],[1972.8,-0.28],[1973.8,-0.27],[1974.9,-0.23]],
    [[1966.9,-0.29],[1967.8,-0.32],[1968.8,-0.36],[1969.8,-0.3],[1970.8,-0.26],[1971.8,-0.33],[1972.8,-0.31],[1973.8,-0.29],[1974.9,-0.29]],
    [[1966.9,-0.33],[1967.8,-0.36],[1968.8,-0.3],[1969.8,-0.25],[1970.8,-0.28],[1971.8,-0.27],[1972.8,-0.23],[1973.8,-0.24],[1974.9,-0.26]],
    [[1966.9,-0.23],[1967.8,-0.25],[1968.8,-0.22],[1969.8,-0.24],[1970.8,-0.31],[1971.8,-0.27],[1972.8,-0.25],[1973.8,-0.21],[1974.9,-0.19]],
    [[1966.9,-0.34],[1967.8,-0.33],[1968.8,-0.27],[1969.8,-0.29],[1970.8,-0.3],[1971.8,-0.31],[1972.8,-0.24],[1973.8,-0.22],[1974.9,-0.21]],
    [[1966.9,-0.36],[1967.6,-0.37],[1968.5,-0.33],[1969.5,-0.26],[1970.5,-0.21],[1971.5,-0.26],[1972.5,-0.28],[1973.5,-0.27],[1974.9,-0.25]] ],
  [ [[1971.9,-0.15],[1972.7,-0.08],[1973.6,-0.07],[1974.5,-0.08],[1975.4,-0.1],[1976.3,-0.13],[1977.2,-0.19],[1978.1,-0.12],[1979.0,-0.1],[1979.8,-0.13]],
    [[1971.9,-0.25],[1972.7,-0.21],[1973.6,-0.12],[1974.5,-0.09],[1975.4,-0.1],[1976.3,-0.16],[1977.2,-0.22],[1978.1,-0.2],[1979.0,-0.15],[1979.8,-0.16]],
    [[1971.9,-0.27],[1972.7,-0.25],[1973.6,-0.22],[1974.5,-0.19],[1975.4,-0.19],[1976.3,-0.23],[1977.0,-0.29],[1977.8,-0.25],[1978.7,-0.19],[1979.8,-0.2]],
    [[1971.9,-0.2],[1972.7,-0.14],[1973.6,-0.1],[1974.5,-0.12],[1975.4,-0.15],[1976.3,-0.18],[1977.2,-0.2],[1978.1,-0.24],[1979.0,-0.22],[1979.8,-0.21]],
    [[1971.9,-0.23],[1972.7,-0.18],[1973.6,-0.15],[1974.5,-0.14],[1975.4,-0.13],[1976.3,-0.11],[1977.2,-0.14],[1978.1,-0.16],[1979.0,-0.2],[1979.8,-0.24]],
    [[1971.9,-0.18],[1972.7,-0.12],[1973.6,-0.1],[1974.5,-0.07],[1975.4,-0.08],[1976.3,-0.13],[1977.2,-0.17],[1978.1,-0.11],[1979.0,-0.09],[1979.8,-0.12]],
    [[1971.9,-0.26],[1972.7,-0.2],[1973.6,-0.18],[1974.5,-0.21],[1975.4,-0.23],[1976.3,-0.21],[1977.2,-0.24],[1978.1,-0.26],[1979.0,-0.23],[1979.8,-0.2]],
    [[1971.9,-0.21],[1972.7,-0.23],[1973.6,-0.19],[1974.5,-0.15],[1975.4,-0.17],[1976.3,-0.2],[1977.2,-0.16],[1978.1,-0.14],[1979.0,-0.18],[1979.8,-0.22]],
    [[1971.9,-0.17],[1972.7,-0.16],[1973.6,-0.13],[1974.5,-0.1],[1975.4,-0.12],[1976.3,-0.16],[1977.2,-0.25],[1978.1,-0.22],[1979.0,-0.19],[1979.8,-0.18]] ],
  [ [[1976.8,-0.32],[1977.5,-0.2],[1978.3,-0.08],[1979.1,0.0],[1980.0,0.04],[1980.8,0.09],[1981.7,0.05],[1982.6,0.0],[1983.5,0.02],[1984.3,0.05],[1984.8,0.08]],
    [[1976.8,-0.28],[1977.5,-0.2],[1978.3,-0.1],[1979.1,-0.02],[1980.0,0.02],[1980.8,0.0],[1981.7,-0.03],[1982.6,-0.07],[1983.5,-0.05],[1984.3,-0.02],[1984.8,-0.03]],
    [[1976.8,-0.25],[1977.5,-0.18],[1978.3,-0.12],[1979.1,-0.06],[1980.0,-0.03],[1980.8,0.03],[1981.7,0.05],[1982.6,0.02],[1983.5,-0.04],[1984.3,-0.08],[1984.8,-0.06]],
    [[1976.8,-0.22],[1977.5,-0.13],[1978.3,-0.05],[1979.1,0.02],[1980.0,0.06],[1980.8,0.04],[1981.7,0.0],[1982.6,-0.05],[1983.5,-0.09],[1984.3,-0.06],[1984.8,-0.05]],
    [[1976.8,-0.27],[1977.5,-0.22],[1978.3,-0.15],[1979.1,-0.1],[1980.0,-0.07],[1980.8,-0.05],[1981.7,-0.02],[1982.6,0.01],[1983.5,0.0],[1984.3,-0.03],[1984.8,-0.02]],
    [[1976.8,-0.23],[1977.5,-0.16],[1978.3,-0.09],[1979.1,-0.04],[1980.0,0.0],[1980.8,-0.02],[1981.7,-0.06],[1982.6,-0.03],[1983.5,0.02],[1984.3,0.0],[1984.8,-0.04]],
    [[1976.8,-0.3],[1977.5,-0.25],[1978.3,-0.17],[1979.1,-0.08],[1980.0,-0.05],[1980.8,-0.06],[1981.7,-0.09],[1982.6,-0.11],[1983.5,-0.08],[1984.3,-0.04],[1984.8,-0.01]],
    [[1976.8,-0.2],[1977.5,-0.12],[1978.3,-0.06],[1979.1,-0.01],[1980.0,0.03],[1980.8,0.07],[1981.7,0.03],[1982.6,-0.02],[1983.5,-0.06],[1984.3,-0.1],[1984.8,-0.08]],
    [[1976.8,-0.26],[1977.5,-0.21],[1978.3,-0.14],[1979.1,-0.07],[1980.0,-0.06],[1980.8,-0.08],[1981.7,-0.05],[1982.6,-0.02],[1983.5,0.03],[1984.3,0.04],[1984.8,0.02]] ],
  [ [[1982.0,-0.12],[1982.8,-0.18],[1983.7,-0.15],[1984.6,-0.08],[1985.5,-0.04],[1986.4,-0.08],[1987.3,-0.12],[1988.2,-0.06],[1989.1,0.02],[1989.9,0.06]],
    [[1982.0,-0.08],[1982.8,-0.12],[1983.7,-0.08],[1984.6,-0.02],[1985.5,0.0],[1986.4,-0.04],[1987.3,-0.08],[1988.2,-0.1],[1989.1,-0.05],[1989.9,0.02]],
    [[1982.0,-0.15],[1982.8,-0.19],[1983.7,-0.17],[1984.6,-0.12],[1985.5,-0.09],[1986.4,-0.12],[1987.3,-0.15],[1988.2,-0.12],[1989.1,-0.07],[1989.9,-0.04]],
    [[1982.0,-0.06],[1982.8,-0.09],[1983.7,-0.04],[1984.6,0.0],[1985.5,-0.03],[1986.4,-0.07],[1987.3,-0.05],[1988.2,0.0],[1989.1,0.05],[1989.9,0.08]],
    [[1982.0,-0.1],[1982.8,-0.14],[1983.7,-0.13],[1984.6,-0.06],[1985.5,-0.06],[1986.4,-0.1],[1987.3,-0.13],[1988.2,-0.14],[1989.1,-0.1],[1989.9,-0.06]],
    [[1982.0,-0.04],[1982.8,-0.06],[1983.7,-0.02],[1984.6,0.02],[1985.5,0.03],[1986.4,0.0],[1987.3,-0.04],[1988.2,-0.02],[1989.1,0.03],[1989.9,0.02]],
    [[1982.0,-0.13],[1982.8,-0.15],[1983.7,-0.1],[1984.6,-0.09],[1985.5,-0.12],[1986.4,-0.16],[1987.3,-0.17],[1988.2,-0.13],[1989.1,-0.09],[1989.9,-0.05]],
    [[1982.0,-0.09],[1982.8,-0.11],[1983.7,-0.06],[1984.6,-0.04],[1985.5,-0.08],[1986.4,-0.13],[1987.3,-0.09],[1988.2,-0.04],[1989.1,0.0],[1989.9,-0.01]],
    [[1982.0,-0.07],[1982.8,-0.04],[1983.7,0.0],[1984.6,-0.03],[1985.5,-0.07],[1986.4,-0.06],[1987.3,-0.02],[1988.2,0.03],[1989.1,0.06],[1989.9,0.09]] ],
  [ [[1987.0,-0.12],[1987.8,-0.15],[1988.6,-0.08],[1989.5,0.02],[1990.4,0.05],[1991.3,0.03],[1992.2,0.0],[1993.1,-0.05],[1994.0,-0.1],[1994.9,-0.11]],
    [[1987.0,-0.08],[1987.8,-0.04],[1988.6,0.05],[1989.5,0.17],[1990.4,0.1],[1991.3,0.04],[1992.2,0.02],[1993.1,0.08],[1994.0,0.12],[1994.9,0.1]],
    [[1987.0,-0.1],[1987.8,-0.08],[1988.6,-0.03],[1989.5,0.0],[1990.4,0.03],[1991.3,0.07],[1992.2,0.05],[1993.1,0.1],[1994.0,0.16],[1994.9,0.2]],
    [[1987.0,-0.06],[1987.8,-0.1],[1988.6,-0.05],[1989.5,0.05],[1990.4,0.08],[1991.3,0.06],[1992.2,0.08],[1993.1,0.12],[1994.0,0.1],[1994.9,0.08]],
    [[1987.0,-0.14],[1987.8,-0.12],[1988.6,-0.1],[1989.5,-0.04],[1990.4,0.0],[1991.3,0.02],[1992.2,-0.01],[1993.1,0.03],[1994.0,0.05],[1994.9,0.03]],
    [[1987.0,-0.09],[1987.8,-0.06],[1988.6,0.0],[1989.5,0.08],[1990.4,0.05],[1991.3,0.0],[1992.2,0.04],[1993.1,0.06],[1994.0,0.02],[1994.9,0.05]],
    [[1987.0,-0.11],[1987.8,-0.13],[1988.6,-0.06],[1989.5,-0.01],[1990.4,-0.03],[1991.3,-0.02],[1992.2,0.02],[1993.1,0.05],[1994.0,0.09],[1994.9,0.12]],
    [[1987.0,-0.07],[1987.8,-0.03],[1988.6,0.02],[1989.5,0.11],[1990.4,0.13],[1991.3,0.1],[1992.2,0.06],[1993.1,0.02],[1994.0,0.04],[1994.9,0.06]],
    [[1987.0,-0.13],[1987.8,-0.09],[1988.6,-0.04],[1989.5,0.03],[1990.4,0.07],[1991.3,0.04],[1992.2,-0.02],[1993.1,-0.04],[1994.0,-0.01],[1994.9,0.0]] ],
  [ [[1992.0,-0.12],[1992.4,-0.15],[1993.0,-0.05],[1993.7,0.2],[1994.4,0.32],[1995.0,0.22],[1995.7,0.02],[1996.5,-0.07],[1997.3,0.05],[1998.2,0.15],[1999.1,0.2],[2000.0,0.22]],
    [[1992.0,0.05],[1992.8,0.12],[1993.6,0.18],[1994.4,0.15],[1995.2,0.05],[1995.8,-0.1],[1996.3,-0.22],[1996.7,-0.25],[1997.2,-0.2],[1997.8,-0.05],[1998.6,0.12],[1999.3,0.2],[2000.0,0.26]],
    [[1992.0,0.08],[1992.8,0.15],[1993.6,0.17],[1994.4,0.2],[1995.2,0.17],[1996.0,0.12],[1996.8,0.1],[1997.6,0.13],[1998.4,0.16],[1999.2,0.22],[2000.0,0.28]],
    [[1992.0,0.02],[1992.8,0.09],[1993.6,0.14],[1994.4,0.12],[1995.2,0.1],[1996.0,0.14],[1996.8,0.16],[1997.6,0.14],[1998.4,0.12],[1999.2,0.16],[2000.0,0.2]],
    [[1992.0,0.1],[1992.8,0.13],[1993.6,0.1],[1994.4,0.07],[1995.2,0.11],[1996.0,0.18],[1996.8,0.2],[1997.6,0.17],[1998.4,0.2],[1999.2,0.26],[2000.0,0.24]],
    [[1992.0,-0.02],[1992.8,0.05],[1993.6,0.12],[1994.4,0.17],[1995.2,0.13],[1996.0,0.06],[1996.8,0.04],[1997.6,0.08],[1998.4,0.16],[1999.2,0.22],[2000.0,0.25]],
    [[1992.0,0.04],[1992.8,0.1],[1993.6,0.16],[1994.4,0.22],[1995.2,0.2],[1996.0,0.14],[1996.8,0.12],[1997.6,0.16],[1998.4,0.22],[1999.2,0.26],[2000.0,0.29]],
    [[1992.0,0.12],[1992.8,0.17],[1993.6,0.2],[1994.4,0.16],[1995.2,0.13],[1996.0,0.1],[1996.8,0.06],[1997.6,0.1],[1998.4,0.14],[1999.2,0.18],[2000.0,0.21]],
    [[1992.0,0.0],[1992.8,0.08],[1993.6,0.11],[1994.4,0.09],[1995.2,0.06],[1996.0,0.02],[1996.8,0.07],[1997.6,0.11],[1998.4,0.18],[1999.2,0.24],[2000.0,0.27]] ],
  [ [[1997.0,0.1],[1997.8,0.06],[1998.8,0.0],[1999.6,0.05],[2000.4,0.1],[2001.3,0.14],[2002.2,0.18],[2003.1,0.2],[2004.0,0.24],[2004.9,0.26]],
    [[1997.0,0.12],[1997.8,0.15],[1998.8,0.1],[1999.6,0.07],[2000.4,0.1],[2001.3,0.17],[2002.2,0.22],[2003.1,0.24],[2004.0,0.28],[2004.9,0.3]],
    [[1997.0,0.08],[1997.8,0.11],[1998.8,0.15],[1999.6,0.12],[2000.4,0.08],[2001.3,0.1],[2002.2,0.15],[2003.1,0.22],[2004.0,0.2],[2004.9,0.17]],
    [[1997.0,0.05],[1997.8,0.09],[1998.8,0.12],[1999.6,0.17],[2000.4,0.2],[2001.3,0.16],[2002.2,0.12],[2003.1,0.18],[2004.0,0.26],[2004.9,0.28]],
    [[1997.0,0.14],[1997.8,0.12],[1998.8,0.08],[1999.6,0.12],[2000.4,0.18],[2001.3,0.22],[2002.2,0.2],[2003.1,0.16],[2004.0,0.19],[2004.9,0.22]],
    [[1997.0,0.07],[1997.8,0.04],[1998.8,0.06],[1999.6,0.1],[2000.4,0.14],[2001.3,0.12],[2002.2,0.16],[2003.1,0.26],[2004.0,0.3],[2004.9,0.24]],
    [[1997.0,0.11],[1997.8,0.08],[1998.8,0.04],[1999.6,0.08],[2000.4,0.06],[2001.3,0.1],[2002.2,0.14],[2003.1,0.12],[2004.0,0.16],[2004.9,0.2]],
    [[1997.0,0.09],[1997.8,0.13],[1998.8,0.17],[1999.6,0.14],[2000.4,0.12],[2001.3,0.18],[2002.2,0.24],[2003.1,0.28],[2004.0,0.22],[2004.9,0.19]],
    [[1997.0,0.06],[1997.8,0.1],[1998.8,0.08],[1999.6,0.04],[2000.4,0.09],[2001.3,0.15],[2002.2,0.19],[2003.1,0.14],[2004.0,0.18],[2004.9,0.25]] ],
  [ [[2002.0,0.27],[2002.7,0.35],[2003.4,0.415],[2004.1,0.38],[2004.8,0.3],[2005.5,0.25],[2006.3,0.3],[2007.1,0.34],[2007.9,0.36],[2008.7,0.38],[2009.4,0.4],[2010.0,0.42]],
    [[2002.0,0.22],[2002.8,0.3],[2003.6,0.36],[2004.4,0.32],[2005.2,0.2],[2005.9,0.15],[2006.6,0.2],[2007.4,0.28],[2008.2,0.32],[2009.0,0.3],[2010.0,0.33]],
    [[2002.0,0.3],[2002.8,0.38],[2003.6,0.4],[2004.4,0.34],[2005.2,0.27],[2006.0,0.22],[2006.8,0.25],[2007.6,0.3],[2008.4,0.28],[2009.2,0.2],[2010.0,0.14]],
    [[2002.0,0.2],[2002.8,0.24],[2003.6,0.28],[2004.4,0.26],[2005.2,0.18],[2006.0,0.14],[2006.8,0.18],[2007.6,0.25],[2008.4,0.3],[2009.2,0.35],[2010.0,0.38]],
    [[2002.0,0.25],[2002.8,0.27],[2003.6,0.33],[2004.4,0.3],[2005.2,0.24],[2006.0,0.25],[2006.8,0.3],[2007.6,0.33],[2008.4,0.31],[2009.2,0.28],[2010.0,0.3]],
    [[2002.0,0.18],[2002.8,0.22],[2003.6,0.25],[2004.4,0.22],[2005.2,0.15],[2006.0,0.19],[2006.8,0.26],[2007.6,0.29],[2008.4,0.25],[2009.2,0.27],[2010.0,0.35]],
    [[2002.0,0.32],[2002.8,0.36],[2003.6,0.34],[2004.4,0.28],[2005.2,0.3],[2006.0,0.33],[2006.8,0.35],[2007.6,0.32],[2008.4,0.34],[2009.2,0.37],[2010.0,0.4]],
    [[2002.0,0.24],[2002.8,0.33],[2003.6,0.37],[2004.4,0.35],[2005.2,0.26],[2006.0,0.2],[2006.8,0.22],[2007.6,0.27],[2008.4,0.22],[2009.2,0.18],[2010.0,0.26]],
    [[2002.0,0.28],[2002.8,0.3],[2003.6,0.31],[2004.4,0.36],[2005.2,0.34],[2006.0,0.28],[2006.8,0.27],[2007.6,0.35],[2008.4,0.38],[2009.2,0.34],[2010.0,0.36]] ],
  [ [[2007.0,0.3],[2007.8,0.33],[2008.7,0.35],[2009.5,0.4],[2010.3,0.38],[2011.1,0.36],[2011.9,0.35],[2012.7,0.42],[2013.4,0.6],[2014.0,0.77],[2014.5,0.74],[2014.9,0.685]],
    [[2007.0,0.25],[2007.8,0.3],[2008.7,0.34],[2009.5,0.3],[2010.3,0.28],[2011.1,0.3],[2011.9,0.35],[2012.7,0.4],[2013.4,0.45],[2014.2,0.52],[2014.9,0.58]],
    [[2007.0,0.35],[2007.8,0.4],[2008.7,0.38],[2009.5,0.32],[2010.3,0.27],[2011.1,0.22],[2011.9,0.17],[2012.4,0.15],[2013.2,0.22],[2014.1,0.36],[2014.9,0.45]],
    [[2007.0,0.2],[2007.8,0.22],[2008.7,0.28],[2009.5,0.35],[2010.3,0.4],[2011.1,0.37],[2011.9,0.3],[2012.7,0.33],[2013.4,0.45],[2014.2,0.52],[2014.9,0.5]],
    [[2007.0,0.28],[2007.8,0.35],[2008.7,0.42],[2009.5,0.38],[2010.3,0.32],[2011.1,0.35],[2011.9,0.42],[2012.7,0.4],[2013.4,0.36],[2014.2,0.33],[2014.9,0.38]],
    [[2007.0,0.22],[2007.8,0.26],[2008.7,0.3],[2009.5,0.33],[2010.3,0.36],[2011.1,0.32],[2011.9,0.26],[2012.7,0.28],[2013.4,0.31],[2014.2,0.3],[2014.9,0.24]],
    [[2007.0,0.32],[2007.8,0.36],[2008.7,0.33],[2009.5,0.29],[2010.3,0.33],[2011.1,0.4],[2011.9,0.44],[2012.7,0.37],[2013.4,0.3],[2014.2,0.36],[2014.9,0.43]],
    [[2007.0,0.26],[2007.8,0.28],[2008.7,0.31],[2009.5,0.36],[2010.3,0.34],[2011.1,0.28],[2011.9,0.3],[2012.7,0.36],[2013.4,0.42],[2014.2,0.48],[2014.9,0.46]],
    [[2007.0,0.3],[2007.8,0.32],[2008.7,0.27],[2009.5,0.25],[2010.3,0.3],[2011.1,0.34],[2011.9,0.38],[2012.7,0.45],[2013.4,0.5],[2014.2,0.46],[2014.9,0.4]] ]
];

// ---------------------------------------------------------------------------
// Styling
// ---------------------------------------------------------------------------
const startColours = ['#C4622D', '#2233FF', '#22DD22', '#FF8C1F', '#FF2A2A',
                      '#BBBBBB', '#FFD21A', '#22EEF2', '#2A2A8A', '#7A2E22'];
const FONT = 'DejaVu Sans';

const minorTickYears = [];
for (let y = 1957; y <= 2018; y++) minorTickYears.push(y);

function buildOption(p) {
  const series = [];
  p.hindcasts.forEach((group, k) => {
    group.forEach(member => {
      series.push({
        type: 'line', data: member, smooth: 0.35, symbol: 'none', silent: true,
        lineStyle: { color: startColours[k], width: 1.3 }, z: 2
      });
    });
  });
  series.push({
    type: 'line', data: observed, smooth: 0.35, symbol: 'none', silent: true,
    lineStyle: { color: '#000000', width: 2.6 }, z: 4,
    markLine: {
      silent: true, symbol: 'none', label: { show: false },
      lineStyle: { type: [2, 2], color: '#8a8a8a', width: 1.5 },
      data: [{ yAxis: 0 }]
    }
  });

  const tickLine = { color: '#666666', width: 1.2 };
  return {
    animation: false,
    grid: Object.assign({ show: true, borderColor: '#a0a0a0', borderWidth: 1.5, backgroundColor: 'transparent' }, p.grid),
    xAxis: [{
      type: 'value', min: 1957, max: 2018,
      axisLine: { onZero: false, lineStyle: { color: '#666666', width: 2 } },
      axisTick: { show: true, customValues: xTickYears, length: 5, lineStyle: tickLine },
      axisLabel: { customValues: xTickYears, margin: 6, color: '#111111', fontFamily: FONT, fontWeight: 'bold', fontSize: 12,
                   formatter: v => String(v) },
      splitLine: { show: false }
    }, {
      type: 'value', min: 1957, max: 2018, position: 'bottom',
      axisLine: { show: false },
      axisTick: { show: true, customValues: minorTickYears, length: 3, lineStyle: tickLine },
      axisLabel: { show: false },
      splitLine: { show: false }
    }],
    yAxis: {
      type: 'value', min: -0.8, max: 0.8, interval: 0.2,
      axisLine: { show: true, onZero: false, lineStyle: { color: '#444444', width: 1.5 } },
      axisTick: { show: true, length: 4, lineStyle: { color: '#444444' } },
      axisLabel: { margin: 6, color: '#111111', fontFamily: FONT, fontWeight: 'bold', fontSize: 12,
                   formatter: v => (Math.abs(v) < 1e-9 ? 0 : v).toFixed(1) },
      splitLine: { show: false },
      name: 'SST anomalies (K)', nameLocation: 'middle', nameGap: 25, nameRotate: 90,
      nameTextStyle: { fontFamily: FONT, fontWeight: 'bold', fontSize: 17, color: '#111111' }
    },
    graphic: p.graphic,
    series: series
  };
}

function titleText(x, y, text) {
  return {
    type: 'text', x: x, y: y, z: 20, silent: true,
    style: { text: text, fill: '#FF0000', font: '54px "' + FONT + '"', textVerticalAlign: 'middle' }
  };
}

const panels = [
  { id: 'pTL', hindcasts: echam5, grid: { left: 60, top: 15.5, width: 831, height: 419.5 },
    graphic: [titleText(95, 76, 'ECHAM5/OM1 (3 members)'),
              { type: 'text', x: 795, y: 7, z: 20, silent: true,
                style: { text: 'p', fill: '#000000', font: 'bold 34px "' + FONT + '"', textVerticalAlign: 'bottom' } }] },
  { id: 'pTR', hindcasts: hadgem2, grid: { left: 67, top: 15, width: 829, height: 419 },
    graphic: [titleText(98, 76, 'HadGEM2 (3 members)')] },
  { id: 'pBL', hindcasts: arpege4, grid: { left: 60, top: 12, width: 831, height: 419 },
    graphic: [titleText(95, 71, 'ARPEGE4/OPA (3 members)')] },
  { id: 'pBR', hindcasts: depresysPP, grid: { left: 65, top: 9, width: 830, height: 418 },
    graphic: [titleText(98, 71, 'DePreSys_PP (9 members)')] },
  { id: 'pIFS', hindcasts: ifsHope, grid: { left: 50, top: 11, width: 837, height: 422 },
    graphic: [titleText(84, 71, 'IFS/HOPE (3 members)')] }
];

panels.forEach(p => {
  const chart = echarts.init(document.getElementById(p.id), null, { renderer: 'canvas' });
  chart.setOption(buildOption(p));
});
</script>
</body>
</html>
